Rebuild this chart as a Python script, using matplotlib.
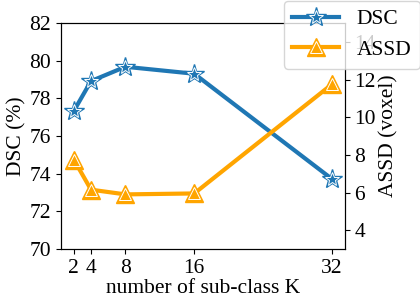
import matplotlib
matplotlib.use("Agg")
import matplotlib.pyplot as plt

plt.rcParams["font.family"] = ["Liberation Serif", "DejaVu Serif"]
plt.rcParams["font.size"] = 15.5

k_values = [2, 4, 8, 16, 32]
dsc = [77.33, 78.92, 79.68, 79.31, 73.72]
assd = [7.75, 6.15, 5.9, 5.95, 11.75]

BLUE = "#1f77b4"
ORANGE = "#ffa500"

fig, ax = plt.subplots(figsize=(4.2, 3.04), dpi=100)
fig.subplots_adjust(left=0.145, right=0.821, bottom=0.181, top=0.924)

# outer marker + line, then a smaller inner marker with a thin white rim
l1, = ax.plot(k_values, dsc, color=BLUE, linewidth=3, marker="*",
              markersize=15, markeredgecolor=BLUE, markerfacecolor=BLUE)
l1b, = ax.plot(k_values, dsc, linestyle="none", marker="*", markersize=10,
               markerfacecolor=BLUE, markeredgecolor="white", markeredgewidth=0.7)
ax.set_ylim(70, 82)
ax.set_yticks([70, 72, 74, 76, 78, 80, 82])
ax.set_xticks(k_values)
ax.set_xlabel("number of sub-class K", labelpad=1)
ax.set_ylabel("DSC (%)", labelpad=2)

ax2 = ax.twinx()
l2, = ax2.plot(k_values, assd, color=ORANGE, linewidth=3, marker="^",
               markersize=13, markeredgecolor=ORANGE, markerfacecolor=ORANGE)
l2b, = ax2.plot(k_values, assd, linestyle="none", marker="^", markersize=9,
                markerfacecolor=ORANGE, markeredgecolor="white", markeredgewidth=0.7)
ax2.set_ylim(3, 15)
ax2.set_yticks([4, 6, 8, 10, 12, 14])
ax2.set_ylabel("ASSD (voxel)", labelpad=2)

ax2.legend(handles=[(l1, l1b), (l2, l2b)], labels=["DSC", "ASSD"],
           loc="upper right", bbox_to_anchor=(1.265, 1.1),
           borderaxespad=0, fontsize=15.5, handlelength=2.2)

fig.savefig("out.png", dpi=100)
